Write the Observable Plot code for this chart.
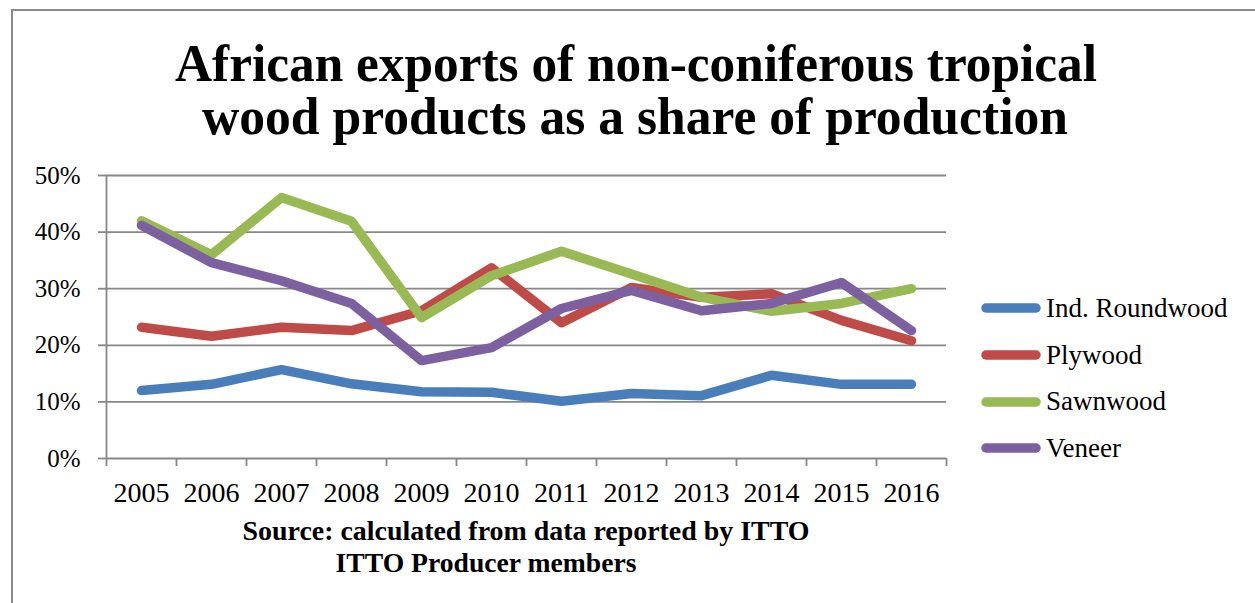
<!DOCTYPE html>
<html>
<head>
<meta charset="utf-8">
<script src="https://cdn.jsdelivr.net/npm/d3@7"></script>
<script src="https://cdn.jsdelivr.net/npm/@observablehq/plot@0.6"></script>
<style>
  html, body { margin: 0; padding: 0; background: #fff; }
  #wrap { position: relative; width: 1255px; height: 603px; overflow: hidden; background: #fff; }
  #frame { position: absolute; left: 11px; top: 9px; width: 1300px; height: 700px; border-left: 2px solid #8a8a8a; border-top: 2px solid #8a8a8a; }
  #chart { position: absolute; left: 0; top: 0; }
  .overlay { position: absolute; left: 0; top: 0; pointer-events: none; }
  #legend { position: absolute; left: 979px; top: 285px; font-family: "Liberation Serif", serif; font-size: 27px; color: #000; }
  #legend .item { display: flex; align-items: center; height: 46.7px; }
  #legend svg { margin-right: 3px; }
</style>
</head>
<body>
<div id="wrap">
  <div id="frame"></div>
  <div id="chart"></div>
  <svg class="overlay" width="1255" height="603" font-family="Liberation Serif, serif" font-weight="bold">
    <text id="t1" x="636" y="81" text-anchor="middle" font-size="52" textLength="922" lengthAdjust="spacingAndGlyphs"></text>
    <text id="t2" x="635" y="134" text-anchor="middle" font-size="52" textLength="866" lengthAdjust="spacingAndGlyphs"></text>
    <text id="c1" x="526" y="540" text-anchor="middle" font-size="27" textLength="567" lengthAdjust="spacingAndGlyphs"></text>
    <text id="c2" x="486" y="572" text-anchor="middle" font-size="27" textLength="301" lengthAdjust="spacingAndGlyphs"></text>
  </svg>
  <div id="legend"></div>
</div>
<script>
const titleLines = ["African exports of non-coniferous tropical", "wood products as a share of production"];
const captionLines = ["Source: calculated from data reported by ITTO", "ITTO Producer members"];

const years = [2005, 2006, 2007, 2008, 2009, 2010, 2011, 2012, 2013, 2014, 2015, 2016];
const seriesNames = ["Ind. Roundwood", "Plywood", "Sawnwood", "Veneer"];
const seriesColors = ["#4a7ebb", "#be4b48", "#98b954", "#7d60a0"];

const roundwood = [0.120, 0.131, 0.157, 0.132, 0.118, 0.117, 0.101, 0.115, 0.111, 0.147, 0.131, 0.131];
const plywood   = [0.232, 0.216, 0.232, 0.226, 0.261, 0.337, 0.240, 0.302, 0.285, 0.291, 0.244, 0.208];
const sawnwood  = [0.420, 0.360, 0.461, 0.419, 0.249, 0.323, 0.366, 0.326, 0.285, 0.260, 0.274, 0.300];
const veneer    = [0.412, 0.346, 0.314, 0.274, 0.173, 0.196, 0.265, 0.297, 0.261, 0.274, 0.311, 0.226];

const yTicks = [0, 0.1, 0.2, 0.3, 0.4, 0.5];

const seriesValues = [roundwood, plywood, sawnwood, veneer];
const data = seriesNames.flatMap((name, i) =>
  years.map((yr, j) => ({series: name, year: yr, value: seriesValues[i][j]}))
);
const boundaries = years.map(y => y - 0.5).concat([years[years.length - 1] + 0.5]);
const grey = "#878787";

const plot = Plot.plot({
  width: 1255,
  height: 603,
  marginLeft: 106,
  marginRight: 309,
  marginTop: 175,
  marginBottom: 145,
  style: {fontFamily: "Liberation Serif, serif", color: "#000", background: "transparent"},
  x: {type: "linear", domain: [boundaries[0], boundaries[boundaries.length - 1]]},
  y: {domain: [0, 0.5]},
  color: {domain: seriesNames, range: seriesColors},
  marks: [
    Plot.ruleY(yTicks.slice(1), {stroke: grey, strokeWidth: 1.8}),
    Plot.axisY({ticks: yTicks, tickSize: 8, tickPadding: 18, tickFormat: d3.format(".0%"), stroke: grey, strokeWidth: 1.8, strokeOpacity: 1, fontSize: 25, label: null}),
    Plot.axisX({ticks: boundaries, tickSize: 8, tickFormat: () => "", stroke: grey, strokeWidth: 1.8, strokeOpacity: 1, label: null}),
    Plot.axisX({ticks: years, tickSize: 0, tickPadding: 24, tickFormat: d => String(d), fontSize: 28, label: null}),
    Plot.ruleY([0], {stroke: grey, strokeWidth: 1.8}),
    Plot.ruleX([boundaries[0]], {y1: 0, y2: 0.5, stroke: grey, strokeWidth: 1.8}),
    Plot.line(data, {x: "year", y: "value", z: "series", stroke: "series", strokeWidth: 9.5, strokeLinecap: "round", strokeLinejoin: "round"})
  ]
});
document.getElementById("chart").appendChild(plot);

document.getElementById("t1").textContent = titleLines[0];
document.getElementById("t2").textContent = titleLines[1];
document.getElementById("c1").textContent = captionLines[0];
document.getElementById("c2").textContent = captionLines[1];

const legend = document.getElementById("legend");
seriesNames.forEach((name, i) => {
  const item = document.createElement("div");
  item.className = "item";
  item.innerHTML = `<svg width="64" height="14"><line x1="7" y1="7" x2="57" y2="7" stroke="${seriesColors[i]}" stroke-width="9.5" stroke-linecap="round"/></svg><span>${name}</span>`;
  legend.appendChild(item);
});
</script>
</body>
</html>
